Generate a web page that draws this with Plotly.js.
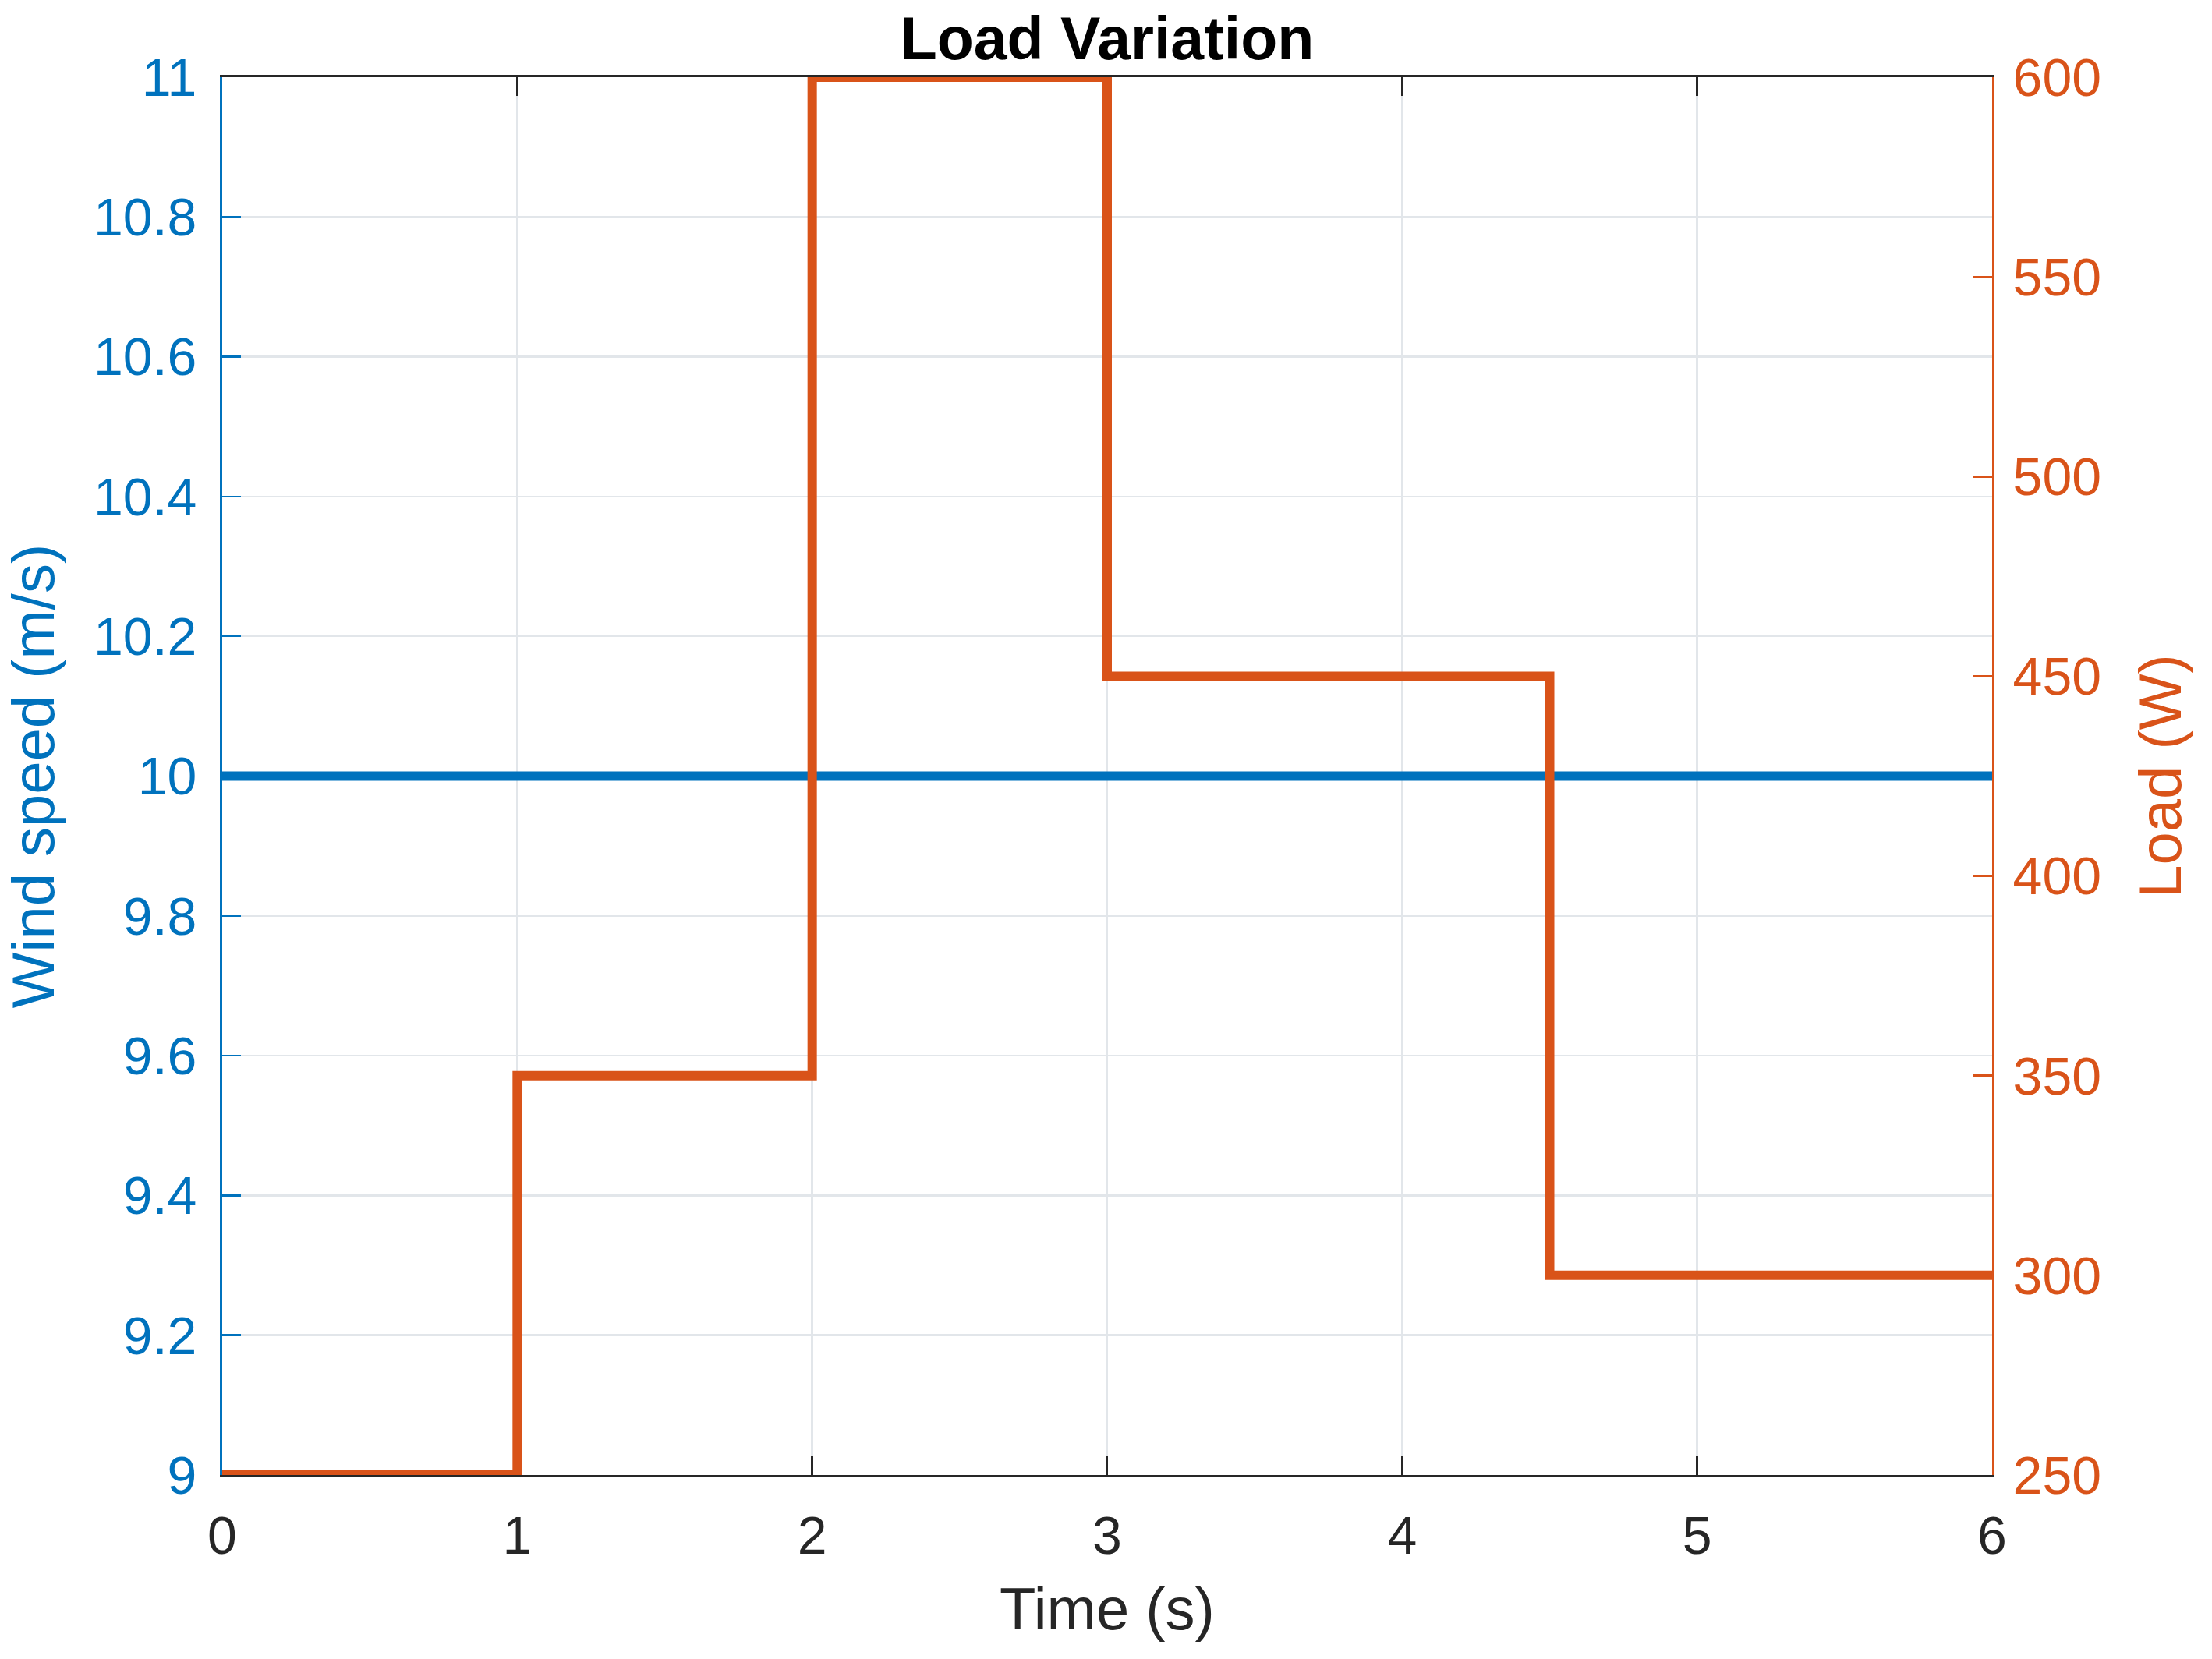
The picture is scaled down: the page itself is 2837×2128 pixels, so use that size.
<!DOCTYPE html>
<html>
<head>
<meta charset="utf-8">
<script src="https://cdn.plot.ly/plotly-3.0.1.min.js"></script>
<style>
  html, body { margin: 0; padding: 0; background: #fff; }
  #chart { width: 2837px; height: 2128px; }
</style>
</head>
<body>
<div id="chart"></div>
<script>
// time axis
var timeTicks = [0, 1, 2, 3, 4, 5, 6];

// wind speed (left axis)
var windTime = [0, 6];
var windSpeed = [10, 10];
var windTickVals = [9, 9.2, 9.4, 9.6, 9.8, 10, 10.2, 10.4, 10.6, 10.8, 11];
var windTickText = ['9', '9.2', '9.4', '9.6', '9.8', '10', '10.2', '10.4', '10.6', '10.8', '11'];

// load steps (right axis)
var loadTime = [0, 1, 2, 3, 4.5, 6];
var loadWatts = [250, 350, 600, 450, 300, 300];
var loadTickVals = [250, 300, 350, 400, 450, 500, 550, 600];

var blue = '#0072BD';
var orange = '#D95319';
var dark = '#262626';
var gridCol = '#e2e6ea';
var fontFam = 'Liberation Sans, Arial, Helvetica, sans-serif';

var wind = {
    x: windTime, y: windSpeed,
    mode: 'lines',
    line: {color: blue, width: 12},
    yaxis: 'y',
    type: 'scatter',
    hoverinfo: 'skip'
};

var load = {
    x: loadTime, y: loadWatts,
    mode: 'lines',
    line: {color: orange, width: 12, shape: 'hv'},
    yaxis: 'y2',
    type: 'scatter',
    hoverinfo: 'skip'
};

var data = [wind, load];

var layout = {
    width: 2837,
    height: 2128,
    paper_bgcolor: '#ffffff',
    plot_bgcolor: '#ffffff',
    showlegend: false,
    margin: {l: 285, r: 282, t: 99, b: 236},
    font: {family: fontFam, color: dark},
    title: {
        text: 'Load Variation',
        font: {family: fontFam, size: 77, color: '#000000', weight: 'bold'},
        x: 0.5, xref: 'paper',
        y: 1 - 49 / 2128, yref: 'container', yanchor: 'middle'
    },
    xaxis: {
        range: [0, 6],
        tickvals: timeTicks,
        ticks: 'inside', ticklen: 24, tickwidth: 2.5, tickcolor: dark,
        showline: true, linecolor: dark, linewidth: 3, mirror: 'ticks',
        showgrid: true, gridcolor: gridCol, gridwidth: 2.5,
        zeroline: false,
        layer: 'below traces',
        tickfont: {size: 68, color: dark},
        ticklabelstandoff: 16,
        title: {text: 'Time (s)', font: {size: 76, color: dark}, standoff: 32}
    },
    yaxis: {
        range: [9, 11],
        tickvals: windTickVals,
        ticktext: windTickText,
        ticks: 'inside', ticklen: 24, tickwidth: 2.5, tickcolor: blue,
        showline: true, linecolor: blue, linewidth: 3,
        showgrid: true, gridcolor: gridCol, gridwidth: 2.5,
        zeroline: false,
        layer: 'below traces',
        tickfont: {size: 68, color: blue},
        ticklabelstandoff: 16,
        title: {text: 'Wind speed (m/s)', font: {size: 76, color: blue}, standoff: 26}
    },
    yaxis2: {
        range: [250, 600],
        tickvals: loadTickVals,
        overlaying: 'y',
        side: 'right',
        ticks: 'inside', ticklen: 24, tickwidth: 2.5, tickcolor: orange,
        showline: true, linecolor: orange, linewidth: 3,
        showgrid: false,
        zeroline: false,
        layer: 'below traces',
        tickfont: {size: 68, color: orange},
        ticklabelstandoff: 10,
        title: {text: 'Load (W)', font: {size: 76, color: orange}, standoff: 50}
    }
};

Plotly.newPlot('chart', data, layout, {displayModeBar: false, staticPlot: true});
</script>
</body>
</html>
